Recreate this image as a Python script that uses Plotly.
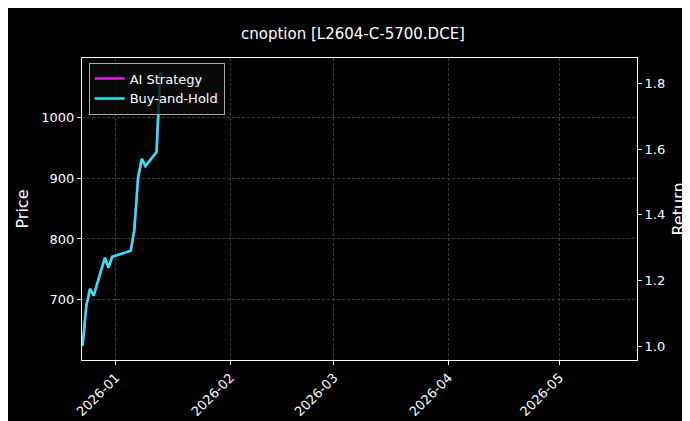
import plotly.graph_objects as go

dates = ["2025-12-23","2025-12-24","2025-12-25","2025-12-26","2025-12-29","2025-12-30","2025-12-31",
         "2026-01-05","2026-01-06","2026-01-07","2026-01-08","2026-01-09","2026-01-12","2026-01-13"]
strategy_ret = [1.003,1.124,1.176,1.155,1.27,1.24,1.273,1.291,1.355,1.512,1.57,1.548,1.591,1.832]
bh_ret = [1.003,1.124,1.176,1.155,1.27,1.24,1.273,1.291,1.355,1.512,1.57,1.548,1.591,1.832]

fig = go.Figure()
fig.add_trace(go.Scatter(x=dates, y=strategy_ret, mode="lines", name="AI Strategy",
                         line=dict(color="#e020e0", width=2.5), yaxis="y2"))
fig.add_trace(go.Scatter(x=dates, y=bh_ret, mode="lines", name="Buy-and-Hold",
                         line=dict(color="#22e8f0", width=2.5), yaxis="y2"))
fig.add_trace(go.Scatter(x=[dates[0]], y=[620], mode="markers", marker=dict(opacity=0),
                         showlegend=False, hoverinfo="skip"))

grid = dict(showgrid=True, gridcolor="#3a3a3a", griddash="3px,2px", gridwidth=0.6)
fig.update_layout(
    width=690, height=421, paper_bgcolor="black", plot_bgcolor="black",
    font=dict(family="DejaVu Sans", color="white", size=13),
    title=dict(text="cnoption [L2604-C-5700.DCE]", x=0.5, xanchor="center", y=0.952, font=dict(size=15)),
    margin=dict(l=74, r=61, t=50, b=69, autoexpand=False),
    xaxis=dict(range=["2025-12-22 20:00", "2026-05-22"], tickformat="%Y-%m", dtick="M1",
               tick0="2026-01-01", tickangle=-45, ticks="outside", ticklen=4, tickcolor="white",
               showline=True, linecolor="white", mirror=True, zeroline=False, automargin=False, **grid),
    yaxis=dict(title=dict(text="Price", standoff=8), range=[600, 1099], tickvals=[700,800,900,1000],
               ticks="outside", ticklen=4, tickcolor="white", showline=True, linecolor="white",
               zeroline=False, automargin=False, **grid),
    yaxis2=dict(title=dict(text="Return", standoff=8), overlaying="y", side="right", range=[0.96, 1.876],
                tickvals=[1.0,1.2,1.4,1.6,1.8], tickformat=".1f", ticks="outside", ticklen=4,
                tickcolor="white", showgrid=False, zeroline=False, showline=True, linecolor="white",
                automargin=False),
    legend=dict(x=0.012, y=0.985, xanchor="left", yanchor="top", bgcolor="rgba(10,10,10,0.8)",
                bordercolor="#aaa", borderwidth=1, font=dict(size=13), tracegroupgap=0),
)
fig.write_html("out.html")
